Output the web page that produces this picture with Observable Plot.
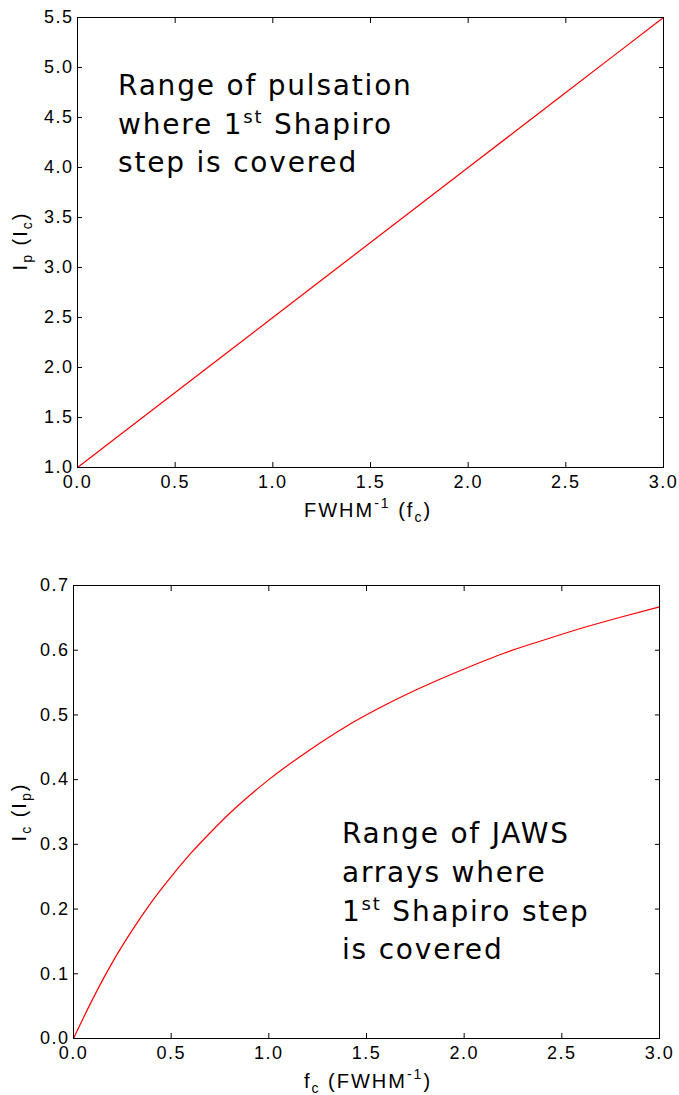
<!DOCTYPE html>
<html>
<head>
<meta charset="utf-8">
<script src="https://cdn.jsdelivr.net/npm/d3@7"></script>
<script src="https://cdn.jsdelivr.net/npm/@observablehq/plot@0.6"></script>
<style>
  body { margin: 0; background: #fff; }
  #charts svg { display: block; overflow: visible; }
</style>
</head>
<body>
<div id="charts"></div>
<script>
// Top panel: pulse amplitude I_p (in units of I_c) versus FWHM^-1 (in units of f_c)
const topX = [0.0, 0.5, 1.0, 1.5, 2.0, 2.5, 3.0];
const topY = [1.0, 1.75, 2.5, 3.25, 4.0, 4.75, 5.5];

// Bottom panel: critical current I_c (in units of I_p) versus f_c (in units of FWHM^-1)
const botX = [0.0, 0.1, 0.2, 0.3, 0.4, 0.5, 0.6, 0.7, 0.8, 0.9, 1.0,
              1.2, 1.4, 1.6, 1.8, 2.0, 2.2, 2.4, 2.6, 2.8, 3.0];
const botY = [0.0, 0.062, 0.118, 0.167, 0.211, 0.25, 0.286, 0.318, 0.348, 0.375, 0.4,
              0.444, 0.483, 0.516, 0.545, 0.571, 0.595, 0.615, 0.634, 0.651, 0.667];

// Tick values
const xTicks = [0.0, 0.5, 1.0, 1.5, 2.0, 2.5, 3.0];
const topYTicks = [1.0, 1.5, 2.0, 2.5, 3.0, 3.5, 4.0, 4.5, 5.0, 5.5];
const botYTicks = [0.0, 0.1, 0.2, 0.3, 0.4, 0.5, 0.6, 0.7];

// Annotation text, one entry per line: [before, superscript, after]
const topNote = [["Range of pulsation"], ["where 1", "st", " Shapiro"], ["step is covered"]];
const botNote = [["Range of JAWS"], ["arrays where"], ["1", "st", " Shapiro step"], ["is covered"]];

const W = 679;
const tickFont = "'Liberation Sans', Arial, sans-serif";
const noteFont = "'DejaVu Sans', Verdana, sans-serif";
const fmt = d => d.toFixed(1);

// Inward ticks on all four sides, labels on left and bottom only
function frameAxes(xt, yt) {
  return [
    Plot.axisX({anchor: "bottom", ticks: xt, tickSize: 0, tickPadding: 8, tickFormat: fmt, label: null}),
    Plot.axisY({anchor: "left", ticks: yt, tickSize: 0, tickPadding: 4, tickFormat: fmt, label: null}),
    Plot.axisX({anchor: "bottom", ticks: xt, tickSize: -5, text: null, label: null}),
    Plot.axisX({anchor: "top", ticks: xt, tickSize: -5, text: null, label: null}),
    Plot.axisY({anchor: "left", ticks: yt, tickSize: -5, text: null, label: null}),
    Plot.axisY({anchor: "right", ticks: yt, tickSize: -5, text: null, label: null}),
    Plot.frame({stroke: "#000", strokeWidth: 1})
  ];
}

function panel({x, y, height, margins, yDomain, yTicks, note, noteAt}) {
  const data = x.map((v, i) => ({x: v, y: y[i]}));
  const plot = Plot.plot({
    width: W,
    height,
    ...margins,
    style: {fontFamily: tickFont, fontSize: "18px", letterSpacing: "1.5px", color: "#000", background: "#fff"},
    x: {domain: [0, 3]},
    y: {domain: yDomain},
    marks: [
      Plot.line(data, {x: "x", y: "y", stroke: "#ff0000", strokeWidth: 1.2, curve: "monotone-x"}),
      ...frameAxes(xTicks, yTicks)
    ]
  });
  // Multi-line annotation with a superscript ordinal
  const sx = plot.scale("x"), sy = plot.scale("y");
  const g = d3.select(plot).append("text")
    .attr("font-family", noteFont).attr("font-size", 28).attr("fill", "#000")
    .attr("text-anchor", "start").style("letter-spacing", "1.8px");
  note.forEach((parts, i) => {
    const line = g.append("tspan").attr("x", sx.apply(noteAt[0])).attr("y", sy.apply(noteAt[1]) + i * 38.7);
    parts.forEach((p, j) => {
      if (j === 1) line.append("tspan").attr("font-size", 18).attr("dy", -11).text(p);
      else if (j === 2) line.append("tspan").attr("dy", 11).text(p);
      else line.append("tspan").text(p);
    });
  });
  return plot;
}

function axisLabel(plot, parts, x, y, rotate) {
  const t = d3.select(plot).append("text")
    .attr("font-family", tickFont).attr("font-size", 20).attr("fill", "#000")
    .attr("text-anchor", "middle").style("letter-spacing", "2px")
    .attr("transform", `translate(${x},${y})` + (rotate ? " rotate(-90)" : ""));
  parts.forEach(([s, kind]) => {
    const sp = t.append("tspan").text(s);
    if (kind === "sub") sp.attr("font-size", 14).attr("dy", 5);
    if (kind === "sup") sp.attr("font-size", 14).attr("dy", -9);
    if (kind === "back-sub") sp.attr("dy", -5);
    if (kind === "back-sup") sp.attr("dy", 9);
  });
}

const top1 = panel({
  x: topX, y: topY, height: 540,
  margins: {marginTop: 17, marginBottom: 73, marginLeft: 77, marginRight: 16},
  yDomain: [1, 5.5], yTicks: topYTicks,
  note: topNote, noteAt: [0.21, 4.72]
});
axisLabel(top1, [["FWHM"], ["-1", "sup"], [" (f", "back-sup"], ["c", "sub"], [")", "back-sub"]], 368, 517, false);
axisLabel(top1, [["I"], ["p", "sub"], [" (I", "back-sub"], ["c", "sub"], [")", "back-sub"]], 27, 241, true);

const bot1 = panel({
  x: botX, y: botY, height: 555,
  margins: {marginTop: 45, marginBottom: 57, marginLeft: 73, marginRight: 20},
  yDomain: [0, 0.7], yTicks: botYTicks,
  note: botNote, noteAt: [1.377, 0.301]
});
axisLabel(bot1, [["f"], ["c", "sub"], [" (FWHM", "back-sub"], ["-1", "sup"], [")", "back-sup"]], 368, 548, false);
axisLabel(bot1, [["I"], ["c", "sub"], [" (I", "back-sub"], ["p", "sub"], [")", "back-sub"]], 26, 272, true);

document.getElementById("charts").append(top1, bot1);
</script>
</body>
</html>
